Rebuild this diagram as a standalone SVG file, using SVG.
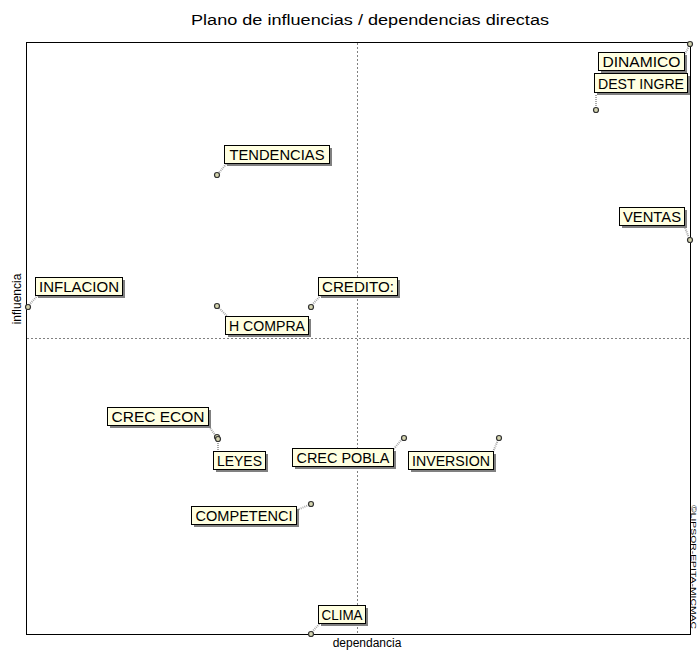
<svg xmlns="http://www.w3.org/2000/svg" width="697" height="650" viewBox="0 0 697 650">
  <style>
    .title { font-family: "Liberation Sans", Arial, sans-serif; font-size: 14px; fill: #000; }
    .axis { font-family: "Liberation Sans", Arial, sans-serif; font-size: 12px; fill: #000; }
    .lbl rect.box { fill: #ffffe1; stroke: #000; stroke-width: 1; }
    .lbl rect.sh { fill: #808080; }
    .lbl text { font-family: "Liberation Sans", Arial, sans-serif; font-size: 15px; fill: #000; }
    .pt { fill: #d6d6b0; stroke: #333; stroke-width: 1.2; }
    .lead { stroke: #a8a8a8; stroke-width: 2; stroke-dasharray: 1 1; fill: none; }
    .frame { fill: #fff; stroke: #000; stroke-width: 1; }
    .mid { stroke: #808080; stroke-width: 1; stroke-dasharray: 2 2; }
    .copy { font-family: "Liberation Sans", Arial, sans-serif; font-size: 7px; fill: #000; }
  </style>
  <rect width="697" height="650" fill="#fff"/>

  <text class="title" x="370" y="25" text-anchor="middle" textLength="358" lengthAdjust="spacingAndGlyphs">Plano de influencias / dependencias directas</text>

  <!-- plotting area -->
  <rect class="frame" x="26.5" y="42.5" width="664" height="592"/>
  <line class="mid" x1="357.5" y1="43" x2="357.5" y2="634"/>
  <line class="mid" x1="27" y1="338.5" x2="690" y2="338.5"/>

  <text class="axis" x="367" y="647" text-anchor="middle">dependancia</text>
  <text class="axis" transform="translate(21,299) rotate(-90)" text-anchor="middle">influencia</text>
  <text class="copy" transform="translate(690.5,505) rotate(90)" textLength="124" lengthAdjust="spacingAndGlyphs">©LIPSOR-EPITA-MICMAC</text>

  <!-- leader lines -->
  <g id="connectors">
    <line class="lead" x1="689" y1="46" x2="683" y2="58"/>
    <line class="lead" x1="596" y1="108" x2="596" y2="94"/>
    <line class="lead" x1="218" y1="174" x2="227" y2="163"/>
    <line class="lead" x1="689" y1="238" x2="684" y2="225"/>
    <line class="lead" x1="29" y1="305" x2="38" y2="295"/>
    <line class="lead" x1="219" y1="308" x2="228" y2="317"/>
    <line class="lead" x1="312" y1="305" x2="321" y2="295"/>
    <line class="lead" x1="208" y1="425" x2="215" y2="435"/>
    <line class="lead" x1="218" y1="441" x2="218" y2="452"/>
    <line class="lead" x1="402" y1="439" x2="393" y2="450"/>
    <line class="lead" x1="498" y1="440" x2="493" y2="452"/>
    <line class="lead" x1="309" y1="505" x2="297" y2="510"/>
    <line class="lead" x1="312" y1="632" x2="321" y2="622"/>
  </g>

  <g id="n-dinamico" class="lbl">
    <rect class="sh" x="601" y="55" width="86" height="18"/>
    <rect class="box" x="598.5" y="52.5" width="86" height="18"/>
    <text x="641.5" y="67" text-anchor="middle" textLength="78" lengthAdjust="spacingAndGlyphs">DINAMICO</text>
    <circle class="pt" cx="690" cy="44" r="2.5"/>
  </g>
  <g id="n-dest-ingre" class="lbl">
    <rect class="sh" x="597" y="76" width="93" height="19"/>
    <rect class="box" x="594.5" y="73.5" width="93" height="19"/>
    <text x="641" y="88.5" text-anchor="middle" textLength="86" lengthAdjust="spacingAndGlyphs">DEST INGRE</text>
    <circle class="pt" cx="596" cy="110" r="2.5"/>
  </g>
  <g id="n-tendencias" class="lbl">
    <rect class="sh" x="227" y="148" width="105" height="18"/>
    <rect class="box" x="224.5" y="145.5" width="105" height="18"/>
    <text x="277" y="160" text-anchor="middle" textLength="95" lengthAdjust="spacingAndGlyphs">TENDENCIAS</text>
    <circle class="pt" cx="217" cy="175" r="2.5"/>
  </g>
  <g id="n-ventas" class="lbl">
    <rect class="sh" x="622" y="210" width="65" height="18"/>
    <rect class="box" x="619.5" y="207.5" width="65" height="18"/>
    <text x="652" y="222" text-anchor="middle" textLength="58" lengthAdjust="spacingAndGlyphs">VENTAS</text>
    <circle class="pt" cx="690" cy="240" r="2.5"/>
  </g>
  <g id="n-inflacion" class="lbl">
    <rect class="sh" x="38" y="280" width="87" height="18"/>
    <rect class="box" x="35.5" y="277.5" width="87" height="18"/>
    <text x="79" y="292" text-anchor="middle" textLength="80" lengthAdjust="spacingAndGlyphs">INFLACION</text>
    <circle class="pt" cx="28" cy="307" r="2.5"/>
  </g>
  <g id="n-h-compra" class="lbl">
    <rect class="sh" x="228" y="319" width="83" height="18"/>
    <rect class="box" x="225.5" y="316.5" width="83" height="18"/>
    <text x="267" y="331" text-anchor="middle" textLength="76" lengthAdjust="spacingAndGlyphs">H COMPRA</text>
    <circle class="pt" cx="217" cy="306" r="2.5"/>
  </g>
  <g id="n-credito" class="lbl">
    <rect class="sh" x="321" y="280" width="79" height="18"/>
    <rect class="box" x="318.5" y="277.5" width="79" height="18"/>
    <text x="358" y="292" text-anchor="middle" textLength="72" lengthAdjust="spacingAndGlyphs">CREDITO:</text>
    <circle class="pt" cx="311" cy="307" r="2.5"/>
  </g>
  <g id="n-crec-econ" class="lbl">
    <rect class="sh" x="110" y="410" width="101" height="18"/>
    <rect class="box" x="107.5" y="407.5" width="101" height="18"/>
    <text x="158" y="422" text-anchor="middle" textLength="93" lengthAdjust="spacingAndGlyphs">CREC  ECON</text>
    <circle class="pt" cx="217" cy="437" r="2.5"/>
  </g>
  <g id="n-leyes" class="lbl">
    <rect class="sh" x="216" y="454" width="52" height="18"/>
    <rect class="box" x="213.5" y="451.5" width="52" height="18"/>
    <text x="239.5" y="466" text-anchor="middle" textLength="45" lengthAdjust="spacingAndGlyphs">LEYES</text>
    <circle class="pt" cx="218" cy="439" r="2.5"/>
  </g>
  <g id="n-crec-pobla" class="lbl">
    <rect class="sh" x="295" y="451" width="101" height="18"/>
    <rect class="box" x="292.5" y="448.5" width="101" height="18"/>
    <text x="343" y="463" text-anchor="middle" textLength="93" lengthAdjust="spacingAndGlyphs">CREC POBLA</text>
    <circle class="pt" cx="404" cy="438" r="2.5"/>
  </g>
  <g id="n-inversion" class="lbl">
    <rect class="sh" x="411" y="454" width="85" height="18"/>
    <rect class="box" x="408.5" y="451.5" width="85" height="18"/>
    <text x="451" y="466" text-anchor="middle" textLength="78" lengthAdjust="spacingAndGlyphs">INVERSION</text>
    <circle class="pt" cx="499" cy="438" r="2.5"/>
  </g>
  <g id="n-competenci" class="lbl">
    <rect class="sh" x="194" y="509" width="105" height="18"/>
    <rect class="box" x="191.5" y="506.5" width="105" height="18"/>
    <text x="244" y="521" text-anchor="middle" textLength="97" lengthAdjust="spacingAndGlyphs">COMPETENCI</text>
    <circle class="pt" cx="311" cy="504" r="2.5"/>
  </g>
  <g id="n-clima" class="lbl">
    <rect class="sh" x="321" y="608" width="47" height="18"/>
    <rect class="box" x="318.5" y="605.5" width="47" height="18"/>
    <text x="342" y="620" text-anchor="middle" textLength="41" lengthAdjust="spacingAndGlyphs">CLIMA</text>
    <circle class="pt" cx="311" cy="634" r="2.5"/>
  </g>
</svg>
